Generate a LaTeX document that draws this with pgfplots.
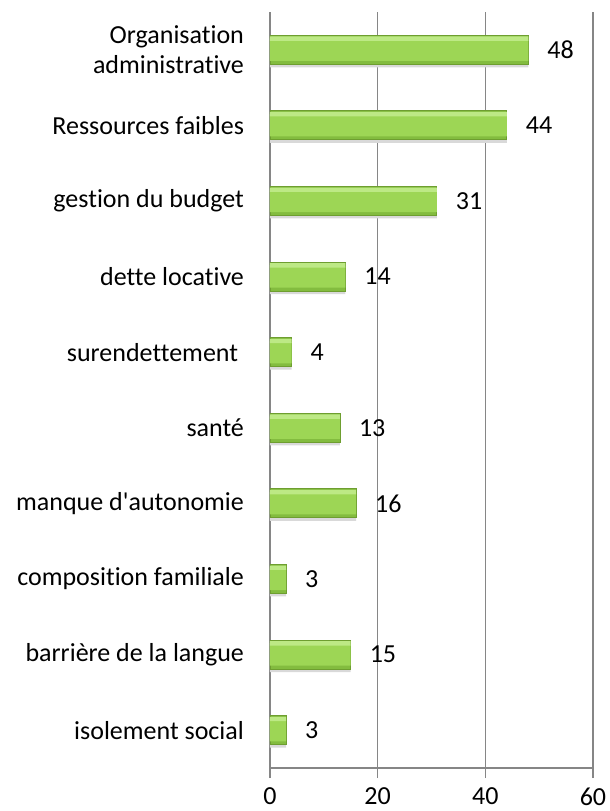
\documentclass[border=0pt]{standalone}
\usepackage{pgfplots}
\pgfplotsset{compat=1.18}
\usepackage{fontspec}
\setmainfont{Carlito}[Ligatures=NoCommon]
\usetikzlibrary{calc}
\definecolor{gridc}{HTML}{868686}
\definecolor{barTop}{HTML}{BDE985}
\definecolor{barMid}{HTML}{9DD655}
\definecolor{barBot}{HTML}{83BC3F}
\definecolor{barEdge}{HTML}{6E9E30}
\pgfplotstableread{
y v
0 3
1 15
2 3
3 16
4 13
5 4
6 14
7 31
8 44
9 48
}\datatable
\begin{document}
\begin{tikzpicture}
\begin{axis}[
  scale only axis,
  width=161.5pt, height=378pt,
  xbar, bar width=14.5pt,
  xmin=0, xmax=60,
  ymin=-0.5, ymax=9.5,
  xtick={0,20,40,60},
  ytick={0,1,2,3,4,5,6,7,8,9},
  yticklabels={isolement social, barrière de la langue, composition familiale, manque d\textquotesingle autonomie, santé, {surendettement\ }, dette locative, gestion du budget, Ressources faibles, {Organisation\ \\administrative}},
  yticklabel style={align=right, font=\fontsize{13}{15}\selectfont, xshift=-4.5pt},
  xticklabel style={font=\fontsize{13}{15}\selectfont, yshift=-1.5pt},
  /pgf/number format/assume math mode=true,
  axis x line*=bottom,
  axis y line*=left,
  axis line style={gridc, line width=0.8pt},
  x axis line style={-},
  y axis line style={-},
  xmajorgrids, major grid style={gridc, line width=0.8pt},
  major tick length=5pt,
  xtick style={gridc, line width=0.8pt},
  xtick pos=bottom, tick align=outside,
  ytick style={draw=none},
]
% soft shadow
\addplot[draw=none, fill=black!15, bar width=14.5pt, bar shift=-1.5pt, forget plot] table[x=v, y=y] {\datatable};
% base bar
\addplot[draw=barEdge, line width=0.4pt, fill=barBot, bar width=14.5pt, bar shift=0pt,
  nodes near coords,
  nodes near coords style={font=\fontsize{13}{15}\selectfont, black, anchor=west, xshift=6pt}] table[x=v, y=y] {\datatable};
% main body
\addplot[draw=none, fill=barMid, bar width=10.5pt, bar shift=-0.3pt] table[x=v, y=y] {\datatable};
% top highlight
\addplot[draw=none, fill=barTop, bar width=2.2pt, bar shift=5.6pt] table[x=v, y=y] {\datatable};
\coordinate (sw) at (rel axis cs:0,0);
\coordinate (ne) at (rel axis cs:1,1);
\end{axis}
\pgfresetboundingbox
\path ($(sw)+(-135pt,-21.5pt)$) rectangle ($(ne)+(8.5pt,6pt)$);
\end{tikzpicture}
\end{document}
